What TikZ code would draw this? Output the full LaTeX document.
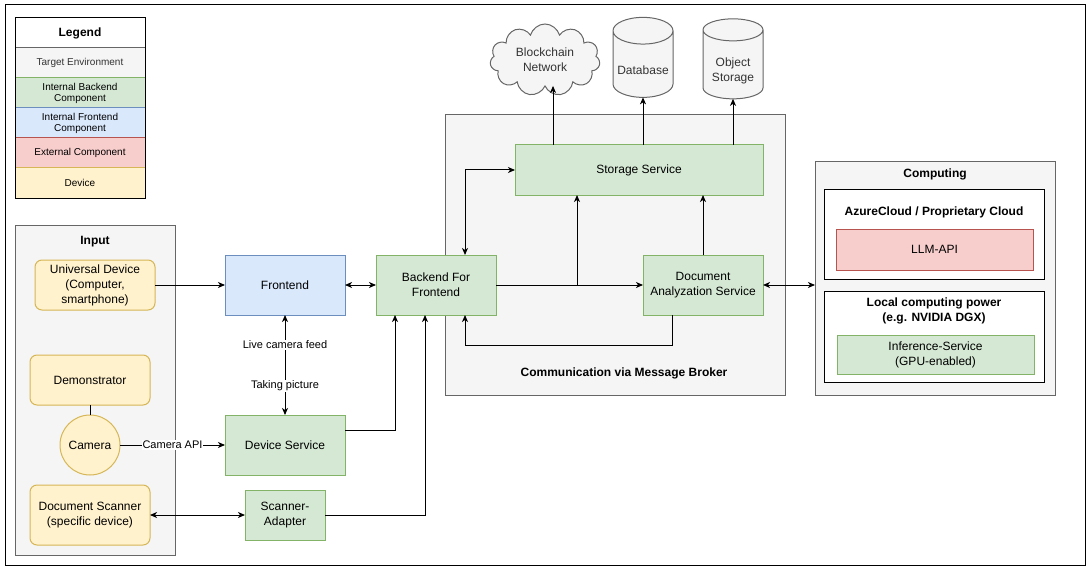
\documentclass[tikz,border=0pt]{standalone}
\usepackage{fontspec}
\setmainfont{Liberation Sans}
\usetikzlibrary{arrows.meta,positioning,shapes.geometric,shapes.symbols}
\definecolor{envfill}{HTML}{F5F5F5}
\definecolor{envline}{HTML}{666666}
\definecolor{backfill}{HTML}{D5E8D4}
\definecolor{backline}{HTML}{82B366}
\definecolor{frontfill}{HTML}{DAE8FC}
\definecolor{frontline}{HTML}{6C8EBF}
\definecolor{extfill}{HTML}{F8CECC}
\definecolor{extline}{HTML}{B85450}
\definecolor{devfill}{HTML}{FFF2CC}
\definecolor{devline}{HTML}{D6B656}
\definecolor{txtgray}{HTML}{333333}
\newcommand{\lowtext}[1]{\raisebox{-5.5pt}[\height][\depth]{\begin{tabular}{@{}c@{}}#1\end{tabular}}}
\tikzset{
  box/.style={draw, line width=1pt, outer sep=0pt, inner sep=1pt, align=center,
    minimum width=120, minimum height=60, font=\fontsize{12}{15}\selectfont},
  backbox/.style={box, fill=backfill, draw=backline},
  frontbox/.style={box, fill=frontfill, draw=frontline},
  extbox/.style={box, fill=extfill, draw=extline},
  devbox/.style={box, fill=devfill, draw=devline, rounded corners=7pt},
  envbox/.style={box, fill=envfill, draw=envline, text=txtgray},
  storebox/.style={envbox, cylinder, shape border rotate=90, aspect=0.5, minimum width=60, minimum height=80},
  legrow/.style={box, minimum width=130, minimum height=30, font=\fontsize{10}{11}\selectfont},
  title/.style={font=\bfseries\fontsize{12}{15}\selectfont, align=center, inner sep=0pt},
  lbl/.style={fill=white, font=\fontsize{11}{13}\selectfont, inner sep=1pt},
  arr/.style={line width=1pt, -{Stealth[length=7pt,width=6pt,inset=2pt]}},
  biarr/.style={line width=1pt, {Stealth[length=7pt,width=6pt,inset=2pt]}-{Stealth[length=7pt,width=6pt,inset=2pt]}},
  plain/.style={line width=1pt}
}
\begin{document}
\begin{tikzpicture}[x=1pt,y=-1pt]
\useasboundingbox (0,0) rectangle (1091,572);
\draw[line width=1pt] (5,5) rectangle (1085,565);

\node[legrow, fill=white, font=\bfseries\fontsize{12}{14}\selectfont] (leg) at (80,33) {Legend};
\node[legrow, fill=envfill, draw=envline, text=txtgray, below=0pt of leg] (legenv) {Target Environment};
\node[legrow, fill=backfill, draw=backline, below=0pt of legenv] (legback) {Internal Backend\\Component};
\node[legrow, fill=frontfill, draw=frontline, below=0pt of legback] (legfront) {Internal Frontend\\Component};
\node[legrow, fill=extfill, draw=extline, below=0pt of legfront] (legext) {External Component};
\node[legrow, fill=devfill, draw=devline, below=0pt of legext] (legdev) {Device};
\draw[line width=1pt] (leg.north west) rectangle (legdev.south east);

\node[envbox, minimum width=160, minimum height=330] (input) at (95,390) {};
\node[title, below=11pt of input.north] (inputtitle) {Input};
\node[envbox, minimum width=340, minimum height=280] (broker) at (615,255) {};
\node[title] (brokertitle) at (624,373) {Communication via Message Broker};
\node[envbox, minimum width=240, minimum height=233] (computing) at (935,278.5) {};
\node[title, below=7pt of computing.north] (comptitle) {Computing};
\node[box, fill=white, minimum width=220, minimum height=90] (azure) at (934,234) {};
\node[title, below=18pt of azure.north] (azuretitle) {AzureCloud / Proprietary Cloud};
\node[box, fill=white, minimum width=220, minimum height=91] (local) at (934,336.5) {};
\node[title, below=7pt of local.north] (localtitle) {Local computing power\\(e.g. NVIDIA DGX)};

\node[devbox, minimum height=50] (universal) at (95,285) {Universal Device\\(Computer,\\smartphone)};
\node[devbox, minimum height=50] (demo) at (90,380) {Demonstrator};
\node[box, circle, fill=devfill, draw=devline, minimum size=60] (camera) at (90,445) {Camera};
\node[devbox] (scanner) at (90,515) {Document Scanner\\(specific device)};

\node[frontbox] (frontend) at (285,285) {Frontend};
\node[backbox] (bff) at (436,285) {Backend For\\Frontend};
\node[backbox] (devsvc) at (285,445) {Device Service};
\node[backbox, minimum width=80, minimum height=50] (adapter) at (285,515) {Scanner-\\Adapter};
\node[backbox, minimum width=248, minimum height=50] (storage) at (639,170) {Storage Service};
\node[backbox] (docan) at (703,285) {Document\\Analyzation Service};
\node[extbox, minimum width=197, minimum height=41] (llm) at (934.5,249.5) {LLM-API};
\node[backbox, minimum width=197, minimum height=39] (inference) at (935.5,354.5) {Inference-Service\\(GPU-enabled)};

\node[envbox, cloud, cloud puffs=11, aspect=1.6, minimum width=110, minimum height=72, inner sep=0pt] (chain) at (545,60) {Blockchain\\Network};
\node[storebox] (db) at (643,66) {\lowtext{Database}};
\node[storebox] (objstore) at (733,66) {\lowtext{Object\\Storage}};

\draw[arr] (universal) -- (frontend);
\draw[biarr] (frontend) -- (bff);
\draw[biarr] (frontend) -- node[lbl, pos=0.3] {Live camera feed} node[lbl, pos=0.71] {Taking picture} (devsvc);
\draw[plain] (demo) -- (camera);
\draw[arr] (camera) -- node[lbl] {Camera API} (devsvc);
\draw[biarr] (scanner) -- (adapter);
\draw[arr] ([yshift=15pt]devsvc.east) -| ([xshift=-41pt]bff.south);
\draw[arr] (adapter) -| ([xshift=-11pt]bff.south);
\draw[arr] (bff) -- (docan);
\coordinate (split) at (577,285);
\draw[arr] (split) -- (split |- storage.south);
\draw[biarr] ([xshift=29pt]bff.north) |- (storage.west);
\draw[arr] (docan.north) -- (docan.north |- storage.south);
\draw[arr] ([xshift=-31pt]docan.south) -- ++(0,30) -| ([xshift=29pt]bff.south);
\draw[biarr] (docan.east) -- (docan.east -| computing.west);
\draw[arr] ([xshift=-86pt]storage.north) -- ([xshift=-86pt]storage.north |- chain.south);
\draw[arr] (db.south |- storage.north) -- (db.south);
\draw[arr] (objstore.south |- storage.north) -- (objstore.south);
\end{tikzpicture}
\end{document}
